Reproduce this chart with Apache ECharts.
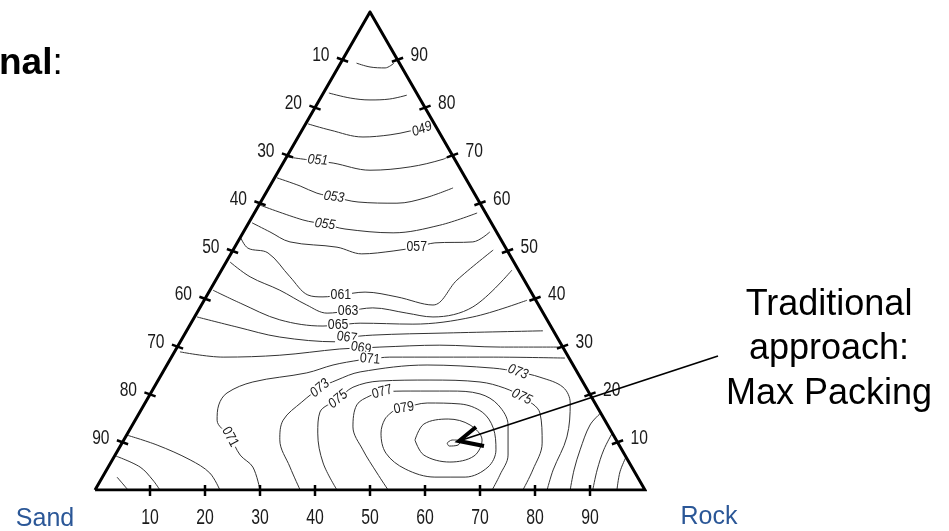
<!DOCTYPE html>
<html><head><meta charset="utf-8">
<script src="https://cdn.jsdelivr.net/npm/echarts@6/dist/echarts.min.js"></script>
<style>html,body{margin:0;padding:0;background:#fff}#c{width:949px;height:531px}</style>
</head><body><div id="c"></div>
<script>
// Ternary composition points: [rock %, top-component %] (sand = remainder)
const tickValues = [10, 20, 30, 40, 50, 60, 70, 80, 90];

const cTop1 = [[2.9,89.3],[5.75,88.5],[8.6,88.3],[9.7,89.3]];
const cTop2 = [[1.0,83.05],[5.4,82.0],[9.2,81.6],[12.7,81.8],[15.4,82.6]];
const c049 = [[0.4,76.6],[5.1,75.3],[11.8,73.85],[16.5,74.3],[19.7,75.1],[22.4,76.15]];
const c051 = [[0,69.7],[6.1,68.8],[9.1,68.4],[16.55,66.9],[23.5,67.6],[28.7,69.2],[29.65,70.1]];
const c053 = [[0.45,65.3],[5.5,63.6],[9.3,62.1],[12.8,61.3],[17.7,60.25],[24.9,60.0],[29.45,61.1],[33.5,63.2]];
const c055 = [[0.2,59.6],[9.55,56.5],[14.0,55.6],[18.15,54.6],[27.3,53.8],[35.0,55.4],[40.5,57.95]];
const c057 = [[0.6,55.9],[4.8,54.0],[9.5,51.9],[18.6,50.8],[23.8,49.4],[29.2,50.0],[33.1,50.8],[35.95,51.7],[42.75,51.9],[44.8,54.0]];
const c061 = [[0,52.9],[2.5,50.6],[6.65,49.6],[13.15,44.6],[18.3,40.8],[21.25,40.4],[24.3,40.8],[28.4,41.4],[34.7,40.4],[42.1,38.7],[43.85,43.9],[47.3,50.2]];
const c063 = [[0.7,47.7],[5.9,44.6],[12.7,41.8],[19.15,38.7],[23.7,37.0],[27.3,37.45],[31.45,38.1],[38.2,37.0],[43.35,36.2],[49.55,38.3],[52.8,46.0]];
const c065 = [[0.55,41.8],[6.85,39.1],[15.8,35.6],[24.3,34.3],[26.95,34.5],[30.75,34.9],[40.45,34.7],[50.6,36.2],[58.7,39.7]];
const c067 = [[0.45,36.2],[8.75,34.1],[17.6,32.0],[28.5,31.0],[29.9,31.8],[34.2,32.4],[47.6,32.85],[64.8,33.3]];
const c069 = [[1.0,28.9],[9.4,27.8],[19.5,28.2],[29.75,29.5],[33.5,29.7],[36.85,29.9],[47.55,30.3],[58.75,29.9],[69.6,29.9]];
const c071 = [[30,0],[26.3,4.8],[22.75,7.3],[19.0,11.1],[14.9,14.6],[13.6,17.8],[13.85,20.3],[17.4,22.6],[26.25,24.5],[30.2,26.15],[34.6,27.2],[36.3,27.4],[39.7,27.8],[48.8,27.8],[58.5,27.8],[71.65,27.6]];
const c073 = [[37.3,0],[33.05,4.8],[28.35,10.5],[26.9,14.6],[28.4,18.4],[30.25,21.3],[32.5,23.0],[35.85,24.7],[47.3,26.15],[59.65,25.5],[64.55,24.7],[69.1,23.6],[74.35,21.5],[77.3,18.2],[80.25,11.1],[81.2,4.2],[82.2,0]];
const c075 = [[44,0],[38.65,5.65],[34.55,11.9],[32.75,16.3],[34.7,19.0],[36.15,21.5],[40.4,22.8],[49.4,23.0],[58.7,22.6],[63.85,21.3],[67.85,19.5],[72.85,16.1],[76.4,9.8],[77.5,4.2],[77.8,0]];
const c077 = [[53.3,0],[49.5,3.55],[44.5,8.4],[40.3,13.2],[38.7,17.8],[40.15,19.7],[41.95,20.5],[46.95,20.7],[54.15,20.7],[59.95,20.1],[64.4,17.8],[68.3,13.6],[71.45,7.3],[72.05,3.1],[72.2,0]];
const c079 = [[45.95,16.5],[47.6,17.15],[51.3,18.2],[57.4,18.0],[62.25,16.3],[65.9,13.0],[68.7,8.4],[69.05,4.8],[65.95,2.7],[60.45,2.7],[54.2,4.4],[49.05,7.7],[46.05,11.9],[45.3,14.85],[45.95,16.5]];
const c081 = [[52.95,10.45],[52.9,13.8],[56.8,14.85],[61.4,13.6],[65.15,10.45],[65.35,7.1],[61.6,5.85],[56.15,7.3],[52.95,10.45]];
const cPeak = [[59.1,9.83],[59.7,10.46],[61.3,10.25],[61.3,9.4],[59.8,9.2],[59.1,9.83]];
const cSandA = [[0,11.5],[6.6,9.4],[14.15,6.3],[19.1,3.55],[22.7,0]];
const cSandB = [[0.25,7.1],[5.8,4.8],[9.45,2.1],[11.8,0]];
const cSandC = [[2.65,2.7],[4.15,1.5],[6,0]];
const cRockA = [[83.9,16.1],[83.2,13.6],[84.0,8.4],[85.0,4.2],[86.4,0]];
const cRockB = [[88.1,11.9],[88.3,8.4],[89.2,4.2],[90.5,0]];
const cRockC = [[93.1,6.9],[93.55,3.8],[94.9,0]];

const labelText = ['049','051','053','055','057','061','063','065','067','069','071','071','073','075','077','079','073','075'];
const labelPos = [[21.7,75.5],[6.0,69.0],[12.8,61.3],[14.0,55.6],[33.1,50.8],[24.3,40.8],[27.3,37.45],[26.95,34.5],[29.85,31.9],[33.5,29.7],[36.3,27.4],[19.0,11.1],[30.25,21.3],[34.7,19.0],[41.95,20.5],[47.6,17.15],[64.55,24.7],[67.85,19.5]];

const triangle = [[0,0],[100,0],[0,100],[0,0]];

// ---- styling (kept apart from data) ----
const labelRot = [20,-5,-8,-8,0,0,0,0,-8,-10,-5,-62,40,40,15,10,-20,-25];
const labelItalic = [1,1,1,1,0,0,0,0,0,0,0,0,1,1,0,0,1,1];
const FONT = '"Liberation Sans", Arial, sans-serif';

function toXY(p){ return [p[0] + p[1] / 2, p[1]]; }

const contours = [cTop1,cTop2,c049,c051,c053,c055,c057,c061,c063,c065,c067,c069,c071,c073,c075,c077,c079,c081,cPeak,cSandA,cSandB,cSandC,cRockA,cRockB,cRockC];

const series = contours.map(c => ({
  type: 'line', data: c.map(toXY), showSymbol: false, smooth: 0.35, z: 2,
  lineStyle: { color: '#333', width: 1 }, silent: true
}));

series.push({
  type: 'custom', z: 3, silent: true,
  data: labelPos.map((p, i) => [...toXY(p), i]),
  renderItem(params, api) {
    const pt = api.coord([api.value(0), api.value(1)]);
    const i = api.value(2);
    return {
      type: 'text', x: pt[0], y: pt[1], rotation: labelRot[i] * Math.PI / 180, scaleX: 0.88,
      style: { text: labelText[i], font: (labelItalic[i] ? 'italic ' : '') + '14px ' + FONT,
        fill: '#1a1a1a', align: 'center', verticalAlign: 'middle', backgroundColor: '#fff', padding: [0, 1] }
    };
  }
});

series.push({
  type: 'line', data: triangle.map(toXY), showSymbol: false, z: 5, silent: true,
  lineStyle: { color: '#000', width: 3, join: 'miter' }
});

const tickData = [];
tickValues.forEach(v => {
  tickData.push([...toXY([0, 100 - v]), 0, v]);   // left edge
  tickData.push([...toXY([100 - v, v]), 1, v]);   // right edge
  tickData.push([...toXY([v, 0]), 2, v]);         // bottom edge
});

series.push({
  type: 'custom', z: 6, silent: true, data: tickData,
  renderItem(params, api) {
    const p = api.coord([api.value(0), api.value(1)]);
    const e = api.value(2), v = String(api.value(3));
    let ln, tx;
    if (e === 0) { ln = {x1:p[0]-5.6,y1:p[1]-2,x2:p[0]+5.6,y2:p[1]+2}; tx = {x:p[0]-13,y:p[1]-4,align:'right',size:20,sx:0.78}; }
    else if (e === 1) { ln = {x1:p[0]-5.6,y1:p[1]+2,x2:p[0]+5.6,y2:p[1]-2}; tx = {x:p[0]+13,y:p[1]-4,align:'left',size:20,sx:0.78}; }
    else { ln = {x1:p[0],y1:p[1]-5,x2:p[0],y2:p[1]+6}; tx = {x:p[0],y:p[1]+28,align:'center',size:22,sx:0.72}; }
    return { type: 'group', children: [
      { type: 'line', shape: ln, style: { stroke: '#000', lineWidth: 2.5 } },
      { type: 'text', x: tx.x, y: tx.y, scaleX: tx.sx,
        style: { text: v, font: tx.size + 'px ' + FONT, fill: '#1a1a1a', align: tx.align, verticalAlign: 'middle' } }
    ]};
  }
});

const chart = echarts.init(document.getElementById('c'), null, { renderer: 'canvas' });
chart.setOption({
  animation: false,
  backgroundColor: '#fff',
  grid: { left: 95, top: 12, width: 550, height: 478 },
  xAxis: { type: 'value', min: 0, max: 100, show: false },
  yAxis: { type: 'value', min: 0, max: 100, show: false },
  series: series,
  graphic: [
    { type: 'text', x: -1, y: 64, style: { text: '{b|nal}{n|:}', verticalAlign: 'middle',
        rich: { b: { font: 'bold 37px ' + FONT, fill: '#000' }, n: { font: '37px ' + FONT, fill: '#000' } } } },
    { type: 'text', x: 829, y: 305, style: { text: 'Traditional', font: '36px ' + FONT, fill: '#000', align: 'center', verticalAlign: 'middle' } },
    { type: 'text', x: 829, y: 349, style: { text: 'approach:', font: '36px ' + FONT, fill: '#000', align: 'center', verticalAlign: 'middle' } },
    { type: 'text', x: 829, y: 394, style: { text: 'Max Packing', font: '36px ' + FONT, fill: '#000', align: 'center', verticalAlign: 'middle' } },
    { type: 'text', x: 45, y: 519, style: { text: 'Sand', font: '25px ' + FONT, fill: '#2b5797', align: 'center', verticalAlign: 'middle' } },
    { type: 'text', x: 709, y: 517, style: { text: 'Rock', font: '25px ' + FONT, fill: '#2b5797', align: 'center', verticalAlign: 'middle' } },
    { type: 'line', shape: { x1: 718, y1: 356, x2: 462, y2: 440 }, style: { stroke: '#000', lineWidth: 1.8 }, z: 10 },
    { type: 'polyline', shape: { points: [[476, 427], [459, 441], [484, 446]] }, style: { stroke: '#000', lineWidth: 4, lineJoin: 'miter', fill: null }, z: 10 }
  ]
});
</script></body></html>
